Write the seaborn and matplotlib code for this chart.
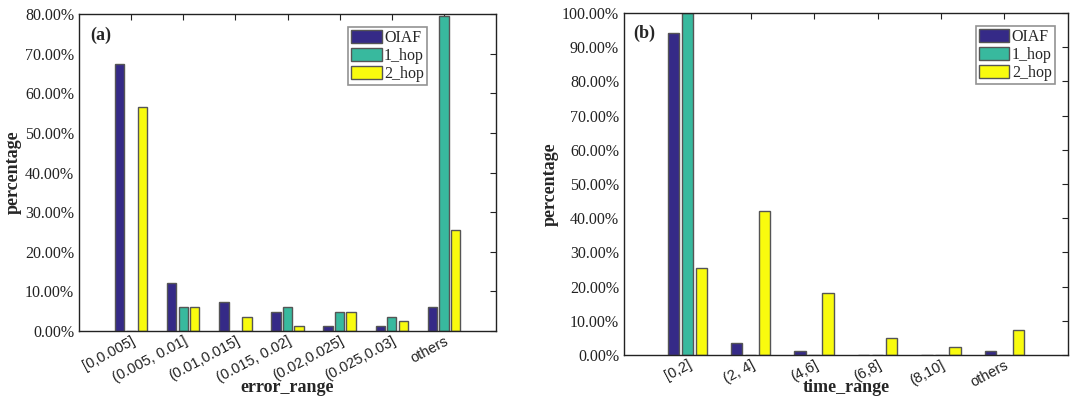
import numpy as np
import pandas as pd
import seaborn as sns
import matplotlib
matplotlib.use("Agg")
import matplotlib.pyplot as plt
from matplotlib.ticker import FuncFormatter, MultipleLocator

# ---------------- data ----------------
series = ["OIAF", "1_hop", "2_hop"]
colors = ["#352a87", "#38b99e", "#f9fb0e"]

error_cats = ["[0,0.005]", "(0.005, 0.01]", "(0.01,0.015]", "(0.015, 0.02]",
              "(0.02,0.025]", "(0.025,0.03]", "others"]
error_oiaf = [67.5, 12.0, 7.2, 4.7, 1.2, 1.2, 6.0]
error_1hop = [0.0, 6.0, 0.0, 6.0, 4.7, 3.5, 79.5]
error_2hop = [56.5, 6.0, 3.5, 1.2, 4.7, 2.4, 25.4]

time_cats = ["[0,2]", "(2, 4]", "(4,6]", "(6,8]", "(8,10]", "others"]
time_oiaf = [94.0, 3.6, 1.2, 0.0, 0.0, 1.2]
time_1hop = [100.0, 0.0, 0.0, 0.0, 0.0, 0.0]
time_2hop = [25.3, 42.2, 18.0, 4.9, 2.4, 7.2]


def long_df(cats, a, b, c):
    rows = []
    for s, vals in zip(series, [a, b, c]):
        for cat, v in zip(cats, vals):
            rows.append({"cat": cat, "series": s, "val": v})
    return pd.DataFrame(rows)


sns.set_theme(style="white")
plt.rcParams["font.family"] = ["Liberation Serif", "DejaVu Serif"]

fig = plt.figure(figsize=(10.72, 4.01), dpi=100)
ax1 = fig.add_axes([0.0737, 0.1746, 0.389, 0.790])
ax2 = fig.add_axes([0.582, 0.1147, 0.414, 0.853])

pct = FuncFormatter(lambda v, p: f"{v:.2f}%")


def draw(ax, df, cats, ymax, step, xlabel, tag, xlab_y, leg_anchor, tag_xy):
    sns.barplot(data=df, x="cat", y="val", hue="series", order=cats,
                hue_order=series, palette=colors, width=0.66, gap=0.18,
                edgecolor="#555555", linewidth=1.0, ax=ax, saturation=1)
    ax.set_xlim(-1, len(cats))
    ax.set_ylim(0, ymax)
    ax.yaxis.set_major_locator(MultipleLocator(step))
    ax.yaxis.set_major_formatter(pct)
    ax.tick_params(axis="both", direction="in", top=True, right=True,
                   length=4, width=0.8, color="#222222", labelsize=11.5,
                   labelcolor="#222222")
    ax.tick_params(axis="x", pad=2)
    plt.setp(ax.get_xticklabels(), rotation=28, ha="right",
             rotation_mode="anchor", fontfamily=["Liberation Sans", "DejaVu Sans"],
             fontsize=10.5)
    ax.set_xlabel(xlabel, fontsize=13, fontweight="bold", va="center")
    ax.xaxis.set_label_coords(0.5, xlab_y)
    ax.set_ylabel("percentage", fontsize=13, fontweight="bold", labelpad=2)
    for sp in ax.spines.values():
        sp.set_color("#222222")
        sp.set_linewidth(1.0)
    ax.text(tag_xy[0], tag_xy[1], tag, transform=ax.transAxes, fontsize=13,
            fontweight="bold", va="top", ha="left")
    leg = ax.legend(loc="upper right", bbox_to_anchor=leg_anchor,
                    fancybox=False, frameon=True, edgecolor="#777777",
                    fontsize=11.5, handlelength=1.9, handleheight=0.85,
                    handletextpad=0.15, borderpad=0.2, labelspacing=0.12,
                    borderaxespad=0.0)
    leg.get_frame().set_linewidth(1.2)


draw(ax1, long_df(error_cats, error_oiaf, error_1hop, error_2hop), error_cats,
     80, 10, "error_range", "(a)", -0.177, (0.835, 0.959), (0.026, 0.962))
draw(ax2, long_df(time_cats, time_oiaf, time_1hop, time_2hop), time_cats,
     100, 10, "time_range", "(b)", -0.096, (0.971, 0.962), (0.02, 0.965))

fig.savefig("out.png", dpi=100)
